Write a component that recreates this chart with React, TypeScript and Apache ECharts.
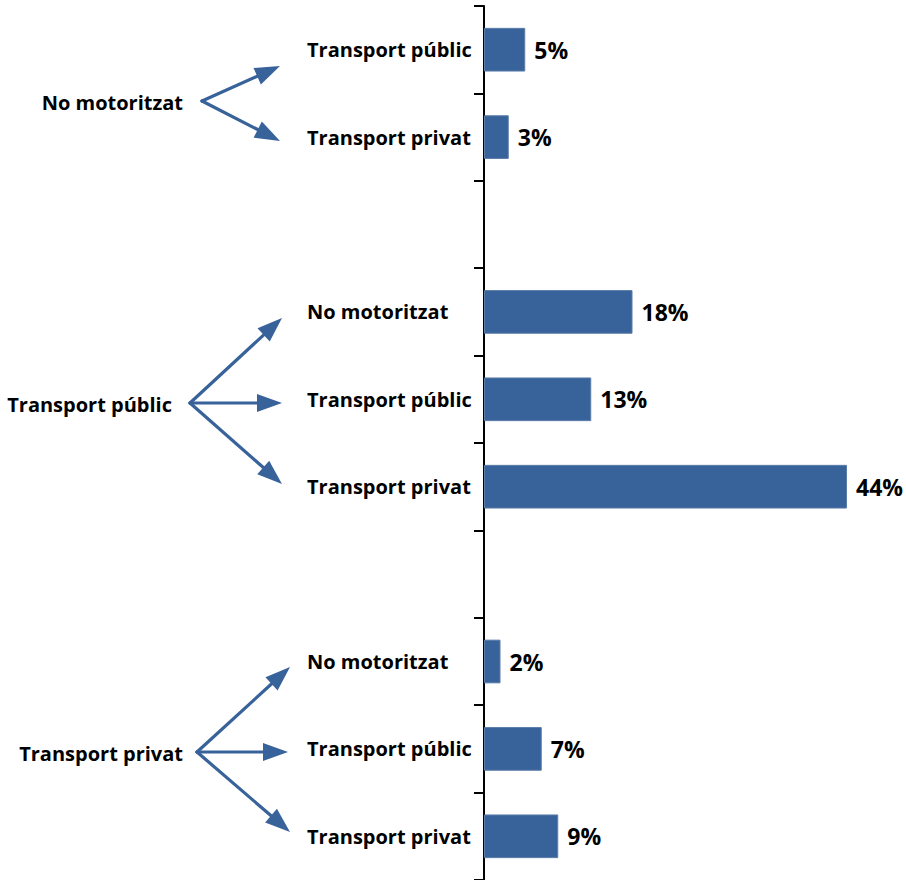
import React, { useEffect, useRef } from "react";
import * as echarts from "echarts";

const categories = [
  "Transport públic",
  "Transport privat",
  "",
  "No motoritzat",
  "Transport públic",
  "Transport privat",
  "",
  "No motoritzat",
  "Transport públic",
  "Transport privat",
];
const shares = [5, 3, null, 18, 13, 44, null, 2, 7, 9];
const groupLabels = ["No motoritzat", "Transport públic", "Transport privat"];

const BLUE = "#38629A";
const FONT = "'Open Sans', 'Liberation Sans', sans-serif";

type Pt = [number, number];
const groupLayout: { text: Pt; origin: Pt; tips: Pt[] }[] = [
  { text: [183, 102], origin: [202, 101], tips: [[280, 66], [280, 141]] },
  { text: [172, 404], origin: [190, 403], tips: [[282, 318], [282, 403], [282, 484]] },
  { text: [183, 753], origin: [197, 752], tips: [[290, 667], [288, 752], [290, 832]] },
];

function arrow(o: Pt, t: Pt): any[] {
  const dx = t[0] - o[0];
  const dy = t[1] - o[1];
  const len = Math.sqrt(dx * dx + dy * dy);
  const ux = dx / len;
  const uy = dy / len;
  const headL = 25;
  const headW = 9;
  const bx = t[0] - ux * headL;
  const by = t[1] - uy * headL;
  return [
    {
      type: "line",
      shape: { x1: o[0], y1: o[1], x2: bx + ux * 2, y2: by + uy * 2 },
      style: { stroke: BLUE, lineWidth: 3.2, lineCap: "round" },
    },
    {
      type: "polygon",
      shape: {
        points: [
          [t[0], t[1]],
          [bx - uy * headW, by + ux * headW],
          [bx + uy * headW, by - ux * headW],
        ],
      },
      style: { fill: BLUE },
    },
  ];
}

export default function App() {
  const ref = useRef<HTMLDivElement>(null);
  useEffect(() => {
    if (!ref.current) return;
    const chart = echarts.init(ref.current, null, { renderer: "svg" });
    const graphics: any[] = [];
    groupLayout.forEach((g, i) => {
      graphics.push({
        type: "text",
        x: g.text[0],
        y: g.text[1],
        style: {
          text: groupLabels[i],
          fill: "#000",
          font: `bold 20px ${FONT}`,
          align: "right",
          verticalAlign: "middle",
        },
      });
      g.tips.forEach((t) => graphics.push(...arrow(g.origin, t)));
    });
    chart.setOption({
      animation: false,
      grid: { left: 484, right: 9.5, top: 6, bottom: 0, containLabel: false },
      xAxis: {
        type: "value",
        min: 0,
        max: 50,
        show: false,
      },
      yAxis: {
        type: "category",
        data: categories,
        inverse: true,
        axisLine: { show: true, lineStyle: { color: "#000", width: 2 } },
        axisTick: { show: true, length: 10, lineStyle: { color: "#000", width: 2 } },
        axisLabel: {
          interval: 0,
          align: "left",
          margin: 177,
          color: "#000",
          fontFamily: FONT,
          fontWeight: "bold",
          fontSize: 20,
          padding: [3, 0, 0, 0],
        },
        splitLine: { show: false },
      },
      series: [
        {
          type: "bar",
          data: shares,
          barWidth: "50%",
          itemStyle: { color: BLUE, borderColor: "#5C7FAA", borderWidth: 1 },
          label: {
            show: true,
            position: "right",
            distance: 9,
            formatter: "{c}%",
            color: "#000",
            fontFamily: FONT,
            fontWeight: "bold",
            fontSize: 23,
            padding: [3, 0, 0, 0],
          },
        },
      ],
      graphic: graphics,
    });
    return () => chart.dispose();
  }, []);
  return (
    <div
      ref={ref}
      style={{ position: "absolute", left: 0, top: 0, width: 906, height: 880 }}
    />
  );
}
